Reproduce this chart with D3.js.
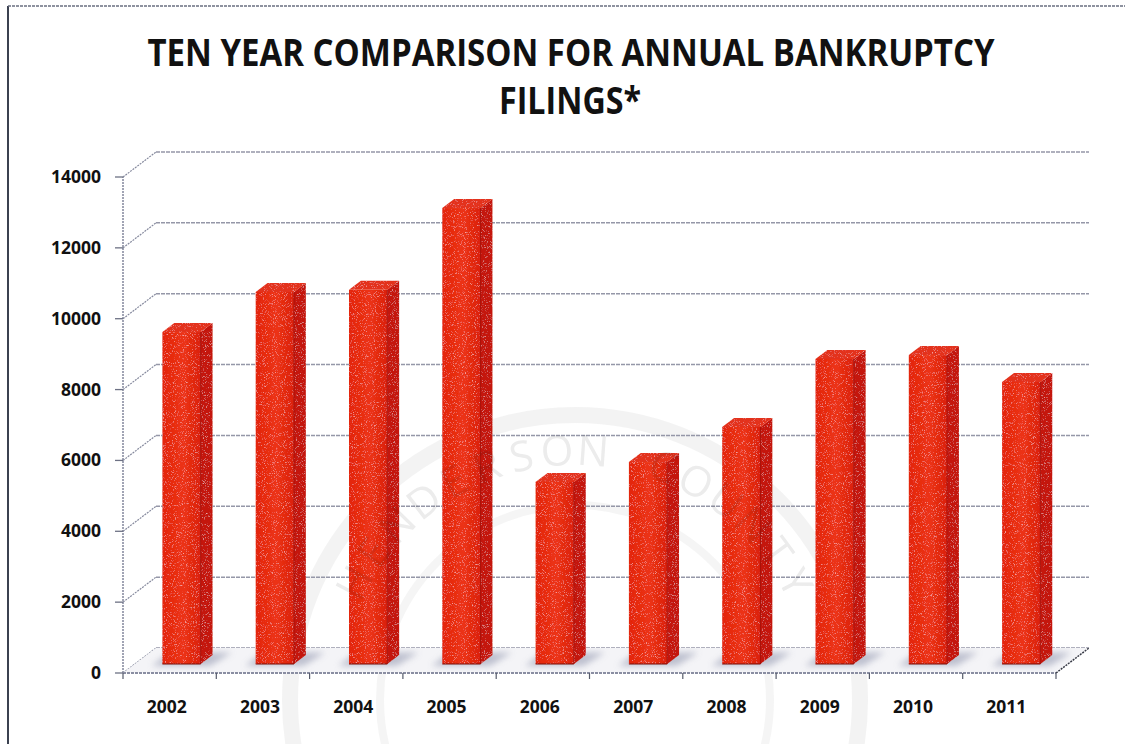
<!DOCTYPE html>
<html>
<head>
<meta charset="utf-8">
<script src="https://cdn.jsdelivr.net/npm/d3@7"></script>
<style>
  html, body { margin: 0; padding: 0; background: #ffffff; }
  svg { display: block; }
</style>
</head>
<body>
<svg id="chart" width="1125" height="744"></svg>
<script>
// ---- data ----
const years = ['2002','2003','2004','2005','2006','2007','2008','2009','2010','2011'];
const filings = [9370, 10500, 10560, 12870, 5140, 5700, 6690, 8610, 8720, 7960];
const yTicks = [0, 2000, 4000, 6000, 8000, 10000, 12000, 14000];
const titleLines = ['TEN YEAR COMPARISON FOR ANNUAL BANKRUPTCY', 'FILINGS*'];
const watermarkText = 'HENDERSON COUNTY';

// ---- layout ----
const W = 1125, H = 744;
const svg = d3.select('#chart');
const left = 123, right = 1056, y0 = 673, yTop = 177;
const DX = 33, DY = -25;           // depth projection offsets (full depth)
const zFront = 0.36, zBack = 0.72; // bar depth range
const barFrac = 0.41;

const x = d3.scaleBand().domain(years).range([left, right]).padding(0);
const y = d3.scaleLinear().domain([0, 14000]).range([y0, yTop]);
const P = (px, v, z) => [px + DX * z, y(v) + DY * z];
const pts = arr => arr.map(p => p.join(',')).join(' ');

const defs = svg.append('defs');
// light speckle texture
const f = defs.append('filter').attr('id', 'speckle').attr('x', 0).attr('y', 0).attr('width', 1).attr('height', 1);
f.append('feTurbulence').attr('type', 'fractalNoise').attr('baseFrequency', 1.1).attr('numOctaves', 2).attr('seed', 5).attr('result', 'noise');
f.append('feColorMatrix').attr('in', 'noise').attr('type', 'matrix')
  .attr('values', '0 0 0 0 1  0 0 0 0 0.8  0 0 0 0 0.8  1.6 0 0 0 -0.95').attr('result', 'spots');
f.append('feComposite').attr('in', 'spots').attr('in2', 'SourceGraphic').attr('operator', 'in').attr('result', 'spotsIn');
f.append('feMerge').selectAll('feMergeNode').data(['SourceGraphic', 'spotsIn']).join('feMergeNode').attr('in', d => d);

const blur = defs.append('filter').attr('id', 'blur').attr('x', '-50%').attr('y', '-50%').attr('width', '200%').attr('height', '200%');
blur.append('feGaussianBlur').attr('stdDeviation', 3);

const frontGrad = defs.append('linearGradient').attr('id', 'frontGrad').attr('x1', 0).attr('x2', 1).attr('y1', 0).attr('y2', 0);
frontGrad.append('stop').attr('offset', '0%').attr('stop-color', '#e3250e');
frontGrad.append('stop').attr('offset', '55%').attr('stop-color', '#ec3313');
frontGrad.append('stop').attr('offset', '100%').attr('stop-color', '#da200d');

// ---- frame ----
svg.append('line').attr('x1', 8).attr('y1', 6).attr('x2', 8).attr('y2', H)
  .attr('stroke', '#3b4150').attr('stroke-width', 2);
svg.append('line').attr('x1', 8).attr('y1', 6).attr('x2', W).attr('y2', 6)
  .attr('stroke', '#6a6f80').attr('stroke-width', 1.5).attr('stroke-dasharray', '3,1');

// ---- watermark seal (behind) ----
const wcx = 575, wcy = 700;
const wm = svg.append('g').attr('pointer-events', 'none');
wm.append('circle').attr('cx', wcx).attr('cy', wcy).attr('r', 285)
  .attr('fill', 'none').attr('stroke', '#a0a0a0').attr('stroke-width', 16).attr('opacity', 0.12);
wm.append('circle').attr('cx', wcx).attr('cy', wcy).attr('r', 195)
  .attr('fill', 'none').attr('stroke', '#a0a0a0').attr('stroke-width', 8).attr('opacity', 0.1);

// ---- title ----
const title = svg.append('g').attr('font-family', '"Open Sans", "Noto Sans", sans-serif')
  .attr('font-weight', 700).attr('fill', '#111').attr('text-anchor', 'middle');
title.append('text').attr('x', 571).attr('y', 66).attr('font-size', 37)
  .attr('textLength', 847).attr('lengthAdjust', 'spacingAndGlyphs').text(titleLines[0]);
title.append('text').attr('x', 570).attr('y', 114).attr('font-size', 37)
  .attr('textLength', 142).attr('lengthAdjust', 'spacingAndGlyphs').text(titleLines[1]);

// ---- gridlines (side wall + back wall) ----
const grid = svg.append('g').attr('fill', 'none');
yTicks.forEach(v => {
  const a = [left, y(v)], b = P(left, v, 1), c = P(right, v, 1);
  grid.append('line').attr('x1', a[0]).attr('y1', a[1]).attr('x2', b[0]).attr('y2', b[1])
    .attr('stroke', '#868a9e').attr('stroke-width', 1.2).attr('stroke-dasharray', '2,1');
  grid.append('line').attr('x1', b[0]).attr('y1', b[1]).attr('x2', c[0]).attr('y2', c[1])
    .attr('stroke', '#9597a8').attr('stroke-width', 1.5).attr('stroke-dasharray', '4,1');
});

// ---- floor ----
const floorPts = [[left, y0], [right, y0], P(right, 0, 1), P(left, 0, 1)];
svg.append('polygon').attr('points', pts(floorPts)).attr('fill', '#f4f4f7').attr('stroke', 'none');

// bar shadows on the floor
const bw = x.bandwidth() * barFrac;
svg.append('g').selectAll('polygon').data(years).join('polygon')
  .attr('points', d => {
    const cx = x(d) + x.bandwidth() / 2;
    const xl = cx - bw / 2 - 8, xr = cx + bw / 2 + 12;
    return pts([P(xl, 0, zFront - 0.08), P(xr, 0, zFront - 0.08), P(xr + 4, 0, zBack + 0.1), P(xl, 0, zBack + 0.1)]);
  })
  .attr('fill', '#b4b7c8').attr('opacity', 0.85).attr('filter', 'url(#blur)');

// floor edges
svg.append('line').attr('x1', left).attr('y1', y0).attr('x2', right).attr('y2', y0)
  .attr('stroke', '#8a8ea2').attr('stroke-width', 2).attr('stroke-dasharray', '3,1');
const fr = P(right, 0, 1);
svg.append('line').attr('x1', right).attr('y1', y0).attr('x2', fr[0]).attr('y2', fr[1])
  .attr('stroke', '#3a3d48').attr('stroke-width', 1.5).attr('stroke-dasharray', '2,1');

// x ticks
svg.append('g').selectAll('line').data(d3.range(years.length + 1)).join('line')
  .attr('x1', i => left + i * x.step()).attr('x2', i => left + i * x.step())
  .attr('y1', y0).attr('y2', y0 + 6).attr('stroke', '#555a6a').attr('stroke-width', 1.2);

// ---- y axis ----
svg.append('line').attr('x1', left).attr('y1', y(0)).attr('x2', left).attr('y2', y(14000))
  .attr('stroke', '#8a8ea2').attr('stroke-width', 1.6).attr('stroke-dasharray', '2,1');
const yAxis = svg.append('g');
yAxis.selectAll('line').data(yTicks).join('line')
  .attr('x1', left - 8).attr('x2', left).attr('y1', d => y(d)).attr('y2', d => y(d))
  .attr('stroke', '#6d7184').attr('stroke-width', 1.3);
yAxis.selectAll('text').data(yTicks).join('text')
  .attr('x', 101).attr('y', d => y(d) + 6).attr('text-anchor', 'end')
  .attr('font-family', '"Open Sans", "Noto Sans", sans-serif').attr('font-weight', 700)
  .attr('font-size', 17.5).attr('fill', '#111').text(d => d);

// ---- bars ----
const bars = svg.append('g').selectAll('g').data(years.map((d, i) => ({ year: d, v: filings[i] }))).join('g');
bars.each(function (d) {
  const g = d3.select(this);
  const cx = x(d.year) + x.bandwidth() / 2;
  const xl = cx - bw / 2, xr = cx + bw / 2;
  g.append('polygon').attr('points', pts([P(xr, 0, zFront), P(xr, d.v, zFront), P(xr, d.v, zBack), P(xr, 0, zBack)]))
    .attr('fill', '#c4170b').attr('filter', 'url(#speckle)');
  g.append('polygon').attr('points', pts([P(xl, d.v, zFront), P(xr, d.v, zFront), P(xr, d.v, zBack), P(xl, d.v, zBack)]))
    .attr('fill', '#e3301a').attr('filter', 'url(#speckle)');
  const a = P(xl, d.v, zFront), b = P(xr, 0, zFront);
  g.append('rect').attr('x', a[0]).attr('y', a[1]).attr('width', b[0] - a[0]).attr('height', b[1] - a[1])
    .attr('fill', 'url(#frontGrad)').attr('filter', 'url(#speckle)');
  g.append('line').attr('x1', b[0]).attr('y1', a[1]).attr('x2', b[0]).attr('y2', b[1])
    .attr('stroke', '#a80f08').attr('stroke-width', 1);
  g.append('line').attr('x1', a[0]).attr('y1', b[1]).attr('x2', b[0]).attr('y2', b[1])
    .attr('stroke', '#7a0c06').attr('stroke-width', 1.2);
});

// ---- watermark letters (faint, over the chart) ----
const letters = watermarkText.split('');
const ang = d3.scaleLinear().domain([0, letters.length - 1]).range([-62, 62]);
const rText = 235;
svg.append('g').attr('pointer-events', 'none').style('mix-blend-mode', 'multiply')
  .selectAll('text').data(letters.map((c, i) => ({ c, a: ang(i) })).filter(d => d.c !== ' ')).join('text')
  .attr('transform', d => {
    const rad = d.a * Math.PI / 180;
    return `translate(${wcx + rText * Math.sin(rad)},${wcy - rText * Math.cos(rad)}) rotate(${d.a})`;
  })
  .attr('text-anchor', 'middle').attr('font-family', '"Open Sans", sans-serif').attr('font-size', 42)
  .attr('fill', '#777').attr('opacity', 0.14).text(d => d.c);

// ---- x labels ----
svg.append('g').selectAll('text').data(years).join('text')
  .attr('x', d => x(d) + x.bandwidth() / 2 - 3).attr('y', 713).attr('text-anchor', 'middle')
  .attr('font-family', '"Open Sans", "Noto Sans", sans-serif').attr('font-weight', 700)
  .attr('font-size', 17.5).attr('fill', '#111').text(d => d);
</script>
</body>
</html>
